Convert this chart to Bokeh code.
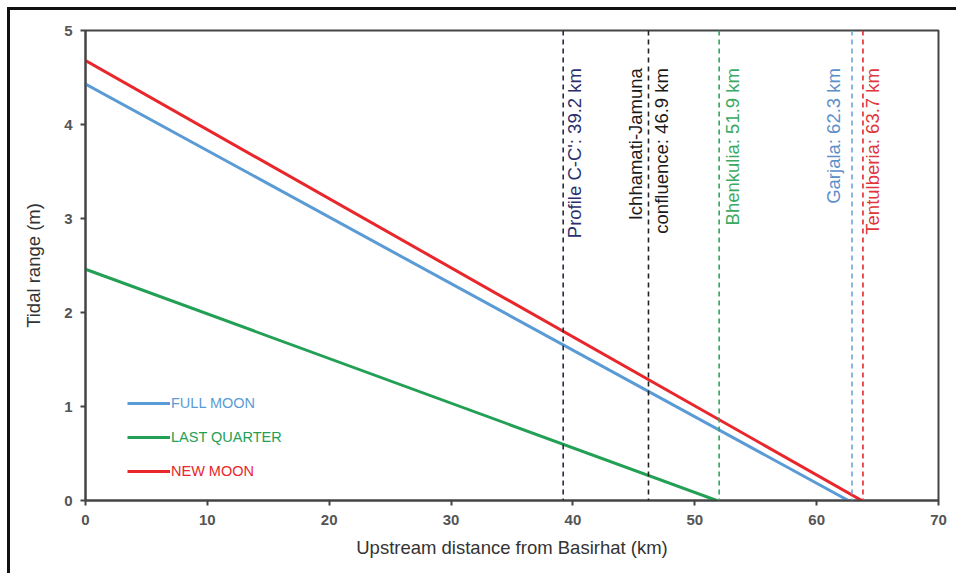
import numpy as np
from bokeh.plotting import figure
from bokeh.models import Span, Legend, LegendItem, ColumnDataSource, Range1d, FixedTicker
from bokeh.core.properties import value
from bokeh.embed import file_html
from bokeh.resources import INLINE

# ---- data ----
series_names = ["FULL MOON", "LAST QUARTER", "NEW MOON"]
full_moon_x = [0.0, 62.6]
full_moon_y = [4.43, 0.0]
last_quarter_x = [0.0, 51.8]
last_quarter_y = [2.46, 0.0]
new_moon_x = [0.0, 63.7]
new_moon_y = [4.68, 0.0]

marker_x = [39.2, 46.2, 52.0, 62.9, 63.8]
marker_labels = [
    "Profile C-C': 39.2 km",
    "Ichhamati-Jamuna\nconfluence: 46.9 km",
    "Bhenkulia: 51.9 km",
    "Garjala: 62.3 km",
    "Tentulberia: 63.7 km",
]
marker_label_top = 4.6

x_ticks = [0, 10, 20, 30, 40, 50, 60, 70]
y_ticks = [0, 1, 2, 3, 4, 5]

# ---- styles ----
series_colors = ["#5b9bd5", "#23a055", "#e8262b"]
marker_line_colors = ["#2a2a44", "#222222", "#2ea55a", "#6aa6d8", "#e0282e"]
marker_text_colors = ["#2b2f6e", "#1a1a1a", "#3aaa62", "#5b8fc9", "#e0363a"]
marker_text_offsets = [11, 0, 13, -18, 10]
FONT = "Liberation Sans"

p = figure(width=949, height=566, output_backend="svg", toolbar_location=None,
           x_range=Range1d(0, 70), y_range=Range1d(0, 5),
           min_border_left=75, min_border_right=21, min_border_top=20, min_border_bottom=76,
           styles={"border-left": "3px solid #111", "border-top": "3px solid #111",
                   "margin-left": "7px", "margin-top": "7px"})

p.xgrid.visible = False
p.ygrid.visible = False
p.outline_line_color = "#444444"
p.outline_line_width = 2
p.background_fill_color = "white"
p.border_fill_color = "white"

for ax in (p.xaxis[0], p.yaxis[0]):
    ax.axis_line_color = "#444444"
    ax.axis_line_width = 2
    ax.major_tick_line_color = "#444444"
    ax.major_tick_line_width = 2
    ax.major_tick_out = 5
    ax.major_tick_in = 0
    ax.minor_tick_line_color = None
    ax.major_label_text_font = FONT
    ax.major_label_text_font_size = "15px"
    ax.major_label_text_font_style = "bold"
    ax.major_label_text_color = "#555555"
    ax.axis_label_text_font = FONT
    ax.axis_label_text_font_size = "18.5px"
    ax.axis_label_text_font_style = "normal"
    ax.axis_label_text_color = "#333333"

p.xaxis[0].ticker = FixedTicker(ticks=x_ticks)
p.yaxis[0].ticker = FixedTicker(ticks=y_ticks)
p.xaxis[0].axis_label = "Upstream distance from Basirhat (km)"
p.yaxis[0].axis_label = "Tidal range (m)"
p.xaxis[0].major_label_standoff = 9
p.yaxis[0].major_label_standoff = 8
p.xaxis[0].axis_label_standoff = 9
p.yaxis[0].axis_label_standoff = 17

# vertical dashed markers
for xv, c in zip(marker_x, marker_line_colors):
    p.add_layout(Span(location=xv, dimension="height", line_color=c,
                      line_dash="5 4", line_width=1.6))

src = ColumnDataSource(dict(x=marker_x, y=[marker_label_top] * len(marker_x),
                            text=marker_labels, color=marker_text_colors,
                            xo=marker_text_offsets))
p.text(x="x", y="y", text="text", source=src, angle=np.pi / 2,
       text_align="right", text_baseline="middle", text_color="color",
       x_offset="xo", text_font=value(FONT), text_font_size="18.5px",
       text_line_height=1.2)

# series lines
series = [(full_moon_x, full_moon_y), (last_quarter_x, last_quarter_y), (new_moon_x, new_moon_y)]
renderers = []
for (xs, ys), c in zip(series, series_colors):
    r = p.line(xs, ys, line_color=c, line_width=3)
    renderers.append(r)

legend_bottoms = [89, 55, 21]
for name, r, c, yb in zip(series_names, renderers, series_colors, legend_bottoms):
    lg = Legend(items=[LegendItem(label=name, renderers=[r])], location=(42, yb),
                label_text_color=c, label_text_font=FONT, label_text_font_size="14.5px",
                glyph_width=43, glyph_height=14, label_height=14, label_standoff=1,
                padding=0, margin=0, spacing=0, border_line_color=None,
                background_fill_alpha=0)
    p.add_layout(lg)

open("out.html", "w").write(file_html(p, INLINE))
